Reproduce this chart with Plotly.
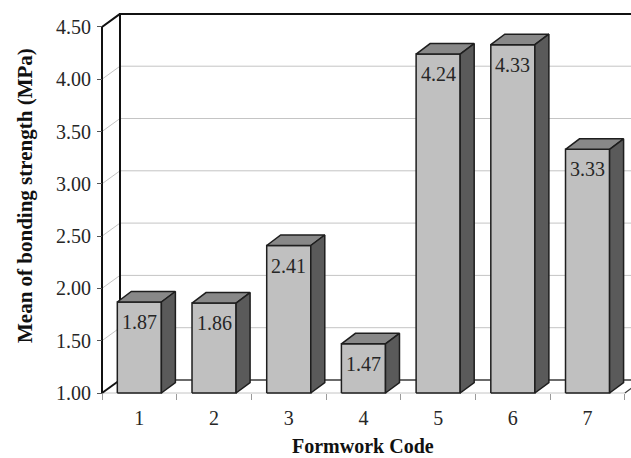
import plotly.graph_objects as go

# Mean bonding strength per formwork type
codes = ["1", "2", "3", "4", "5", "6", "7"]
strength = [1.87, 1.86, 2.41, 1.47, 4.24, 4.33, 3.33]
y_ticks = [1.00, 1.50, 2.00, 2.50, 3.00, 3.50, 4.00, 4.50]

W, H = 631, 458
FONT = "Liberation Serif"

# pixel geometry of the plotting box
x_px0, x_unit = 102.0, 74.7      # left edge of the category axis, px per category
y_px0, y_unit = 393.0, 104.6     # pixel of y=1.00, px per MPa
y_base = y_ticks[0]

x_lo = -0.5 - x_px0 / x_unit
x_hi = -0.5 + (W - x_px0) / x_unit
y_lo = y_base - (H - y_px0) / y_unit
y_hi = y_base + y_px0 / y_unit

# 3-D depth offsets (data units)
wall_dx, wall_dy = 18 / x_unit, 13 / y_unit
bar_dx, bar_dy = 14 / x_unit, 10.5 / y_unit
half_w = 0.295

x_left = -0.5
x_right = len(codes) - 0.5
y_top = y_ticks[-1]

fig = go.Figure()


def seg(xs, ys, color, width):
    fig.add_trace(go.Scatter(x=xs, y=ys, mode="lines",
                             line=dict(color=color, width=width),
                             hoverinfo="skip", showlegend=False))


# gridlines on the back wall and the left side wall
gx, gy = [], []
for t in y_ticks[1:-1]:
    gx += [x_left, x_left + wall_dx, x_right + wall_dx + 1, None]
    gy += [t, t + wall_dy, t + wall_dy, None]
seg(gx, gy, "#c4c4c4", 1)

# floor front edge
seg([x_left, x_right], [y_base, y_base], "#c4c4c4", 1)

# wall and floor outlines
seg([x_left + wall_dx, x_right + wall_dx + 1],
    [y_base + wall_dy, y_base + wall_dy], "#3a3a3a", 1.5)
seg([x_right, x_right + wall_dx], [y_base, y_base + wall_dy], "#3a3a3a", 1.2)
seg([x_left + wall_dx, x_left + wall_dx, x_right + wall_dx + 1],
    [y_base + wall_dy, y_top + wall_dy, y_top + wall_dy], "#111111", 2)
seg([x_left, x_left, x_left + wall_dx, None, x_left, x_left + wall_dx],
    [y_base, y_top, y_top + wall_dy, None, y_base, y_base + wall_dy],
    "#111111", 2)

# 3-D columns: front, top and side faces
fx, fy, tx, ty, sx, sy = [], [], [], [], [], []
for i, v in enumerate(strength):
    l, r = i - half_w, i + half_w
    fx += [l, r, r, l, l, None]
    fy += [y_base, y_base, v, v, y_base, None]
    tx += [l, r, r + bar_dx, l + bar_dx, l, None]
    ty += [v, v, v + bar_dy, v + bar_dy, v, None]
    sx += [r, r + bar_dx, r + bar_dx, r, r, None]
    sy += [y_base, y_base + bar_dy, v + bar_dy, v, y_base, None]

for xs, ys, col in [(fx, fy, "#c0c0c0"), (tx, ty, "#888888"), (sx, sy, "#5a5a5a")]:
    fig.add_trace(go.Scatter(x=xs, y=ys, mode="lines", fill="toself",
                             fillcolor=col, line=dict(color="#1e1e1e", width=1.5),
                             hoverinfo="skip", showlegend=False))

# value labels on the column fronts
for i, v in enumerate(strength):
    fig.add_annotation(x=i, y=v, text=f"{v:.2f}", showarrow=False,
                       yanchor="middle", yshift=-20,
                       font=dict(family=FONT, size=20, color="#262626"))

fig.update_layout(
    width=W, height=H,
    margin=dict(l=0, r=0, t=0, b=0),
    paper_bgcolor="white", plot_bgcolor="white",
    showlegend=False,
    font=dict(family=FONT, size=20, color="#262626"),
    xaxis=dict(
        domain=[0, 1], range=[x_lo, x_hi],
        anchor="free", position=(H - y_px0) / H,
        tickvals=list(range(len(codes))), ticktext=codes,
        ticks="", showgrid=False, zeroline=False, showline=False,
        ticklabelstandoff=11, automargin=False,
        tickfont=dict(family=FONT, size=20, color="#262626"),
        minor=dict(tickvals=[k - 0.5 for k in range(len(codes) + 1)],
                   ticks="outside", ticklen=6, tickcolor="#9a9a9a",
                   tickwidth=1, showgrid=False),
    ),
    yaxis=dict(
        domain=[0, 1], range=[y_lo, y_hi],
        anchor="free", position=x_px0 / W,
        tickvals=y_ticks, ticktext=[f"{t:.2f}" for t in y_ticks],
        ticks="outside", ticklen=5, tickcolor="#555555", tickwidth=1,
        showgrid=False, zeroline=False, showline=False,
        ticklabelstandoff=2, automargin=False,
        tickfont=dict(family=FONT, size=20, color="#262626"),
    ),
)

# axis titles
fig.add_annotation(xref="paper", yref="paper", x=25 / W, y=1 - 196 / H,
                   text="<b>Mean of bonding strength (MPa)</b>", textangle=-90,
                   showarrow=False, xanchor="center", yanchor="middle",
                   font=dict(family=FONT, size=21, color="#111111"))
fig.add_annotation(xref="paper", yref="paper", x=363 / W, y=0,
                   text="<b>Formwork Code</b>", showarrow=False,
                   xanchor="center", yanchor="bottom", borderpad=0,
                   font=dict(family=FONT, size=20, color="#111111"))

fig.write_html("out.html")
